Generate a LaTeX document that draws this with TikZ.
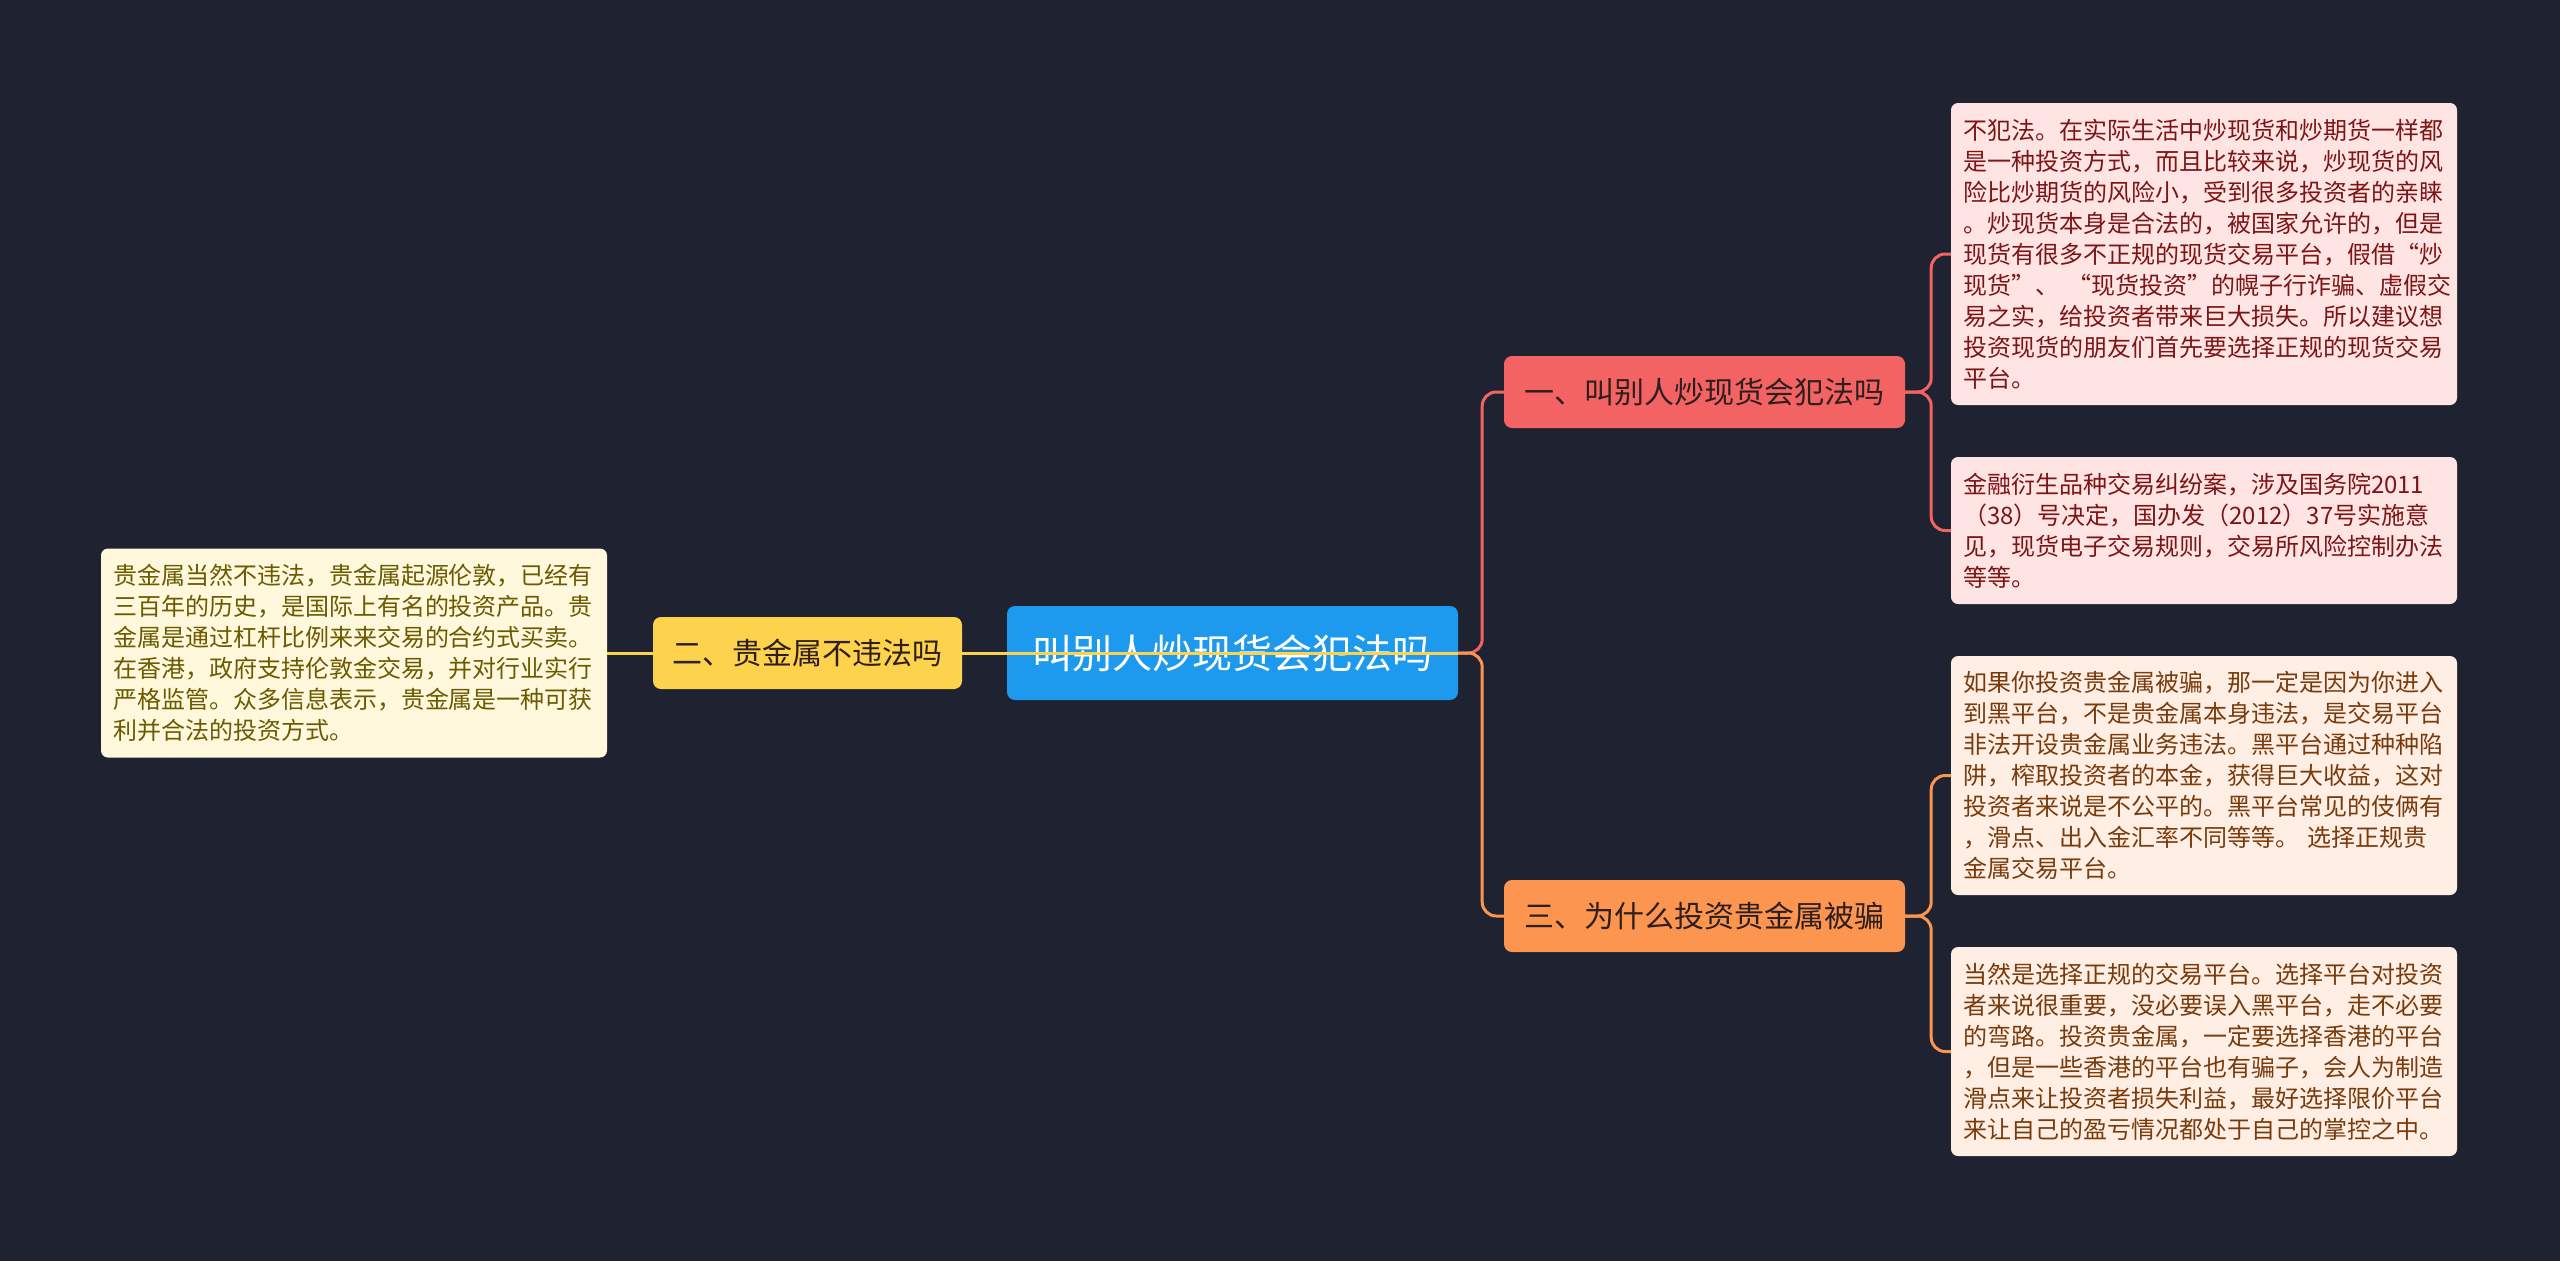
\documentclass[tikz,border=0pt]{standalone}
\usepackage{fontspec}
\setmainfont{Noto Sans CJK SC}
\definecolor{bg}{HTML}{1F2230}
\definecolor{rootc}{HTML}{1D99EE}
\definecolor{redc}{HTML}{F46363}
\definecolor{orac}{HTML}{FB9550}
\definecolor{yelc}{HTML}{FDD24C}
\definecolor{pinkbg}{HTML}{FFE4E4}
\definecolor{pinktx}{HTML}{7E1515}
\definecolor{orabg}{HTML}{FFEEE4}
\definecolor{oratx}{HTML}{7A3B0C}
\definecolor{yelbg}{HTML}{FFF8DC}
\definecolor{yeltx}{HTML}{6B5A00}
\definecolor{darktx}{HTML}{2E1E1E}
\tikzset{
  rootbox/.style={fill=rootc, rounded corners=8pt, inner sep=0pt, text=white,
    font=\fontsize{40}{48}\selectfont, minimum width=451pt, minimum height=94pt},
  branchbox/.style={rounded corners=8pt, inner sep=0pt, text=darktx,
    font=\fontsize{30}{36}\selectfont, minimum height=72pt},
  leafbox/.style={rounded corners=7pt, inner xsep=12pt, inner ysep=6pt,
    text width=482pt, align=left, font=\fontsize{24}{31}\selectfont},
  conn/.style={line width=3pt, rounded corners=14pt},
}
\begin{document}
\begin{tikzpicture}[x=1pt,y=-1pt]
\fill[bg] (0,0) rectangle (2560,1261);
\useasboundingbox (0,0) rectangle (2560,1261);

\node[rootbox] (root) at (1232.5,653) {叫别人炒现货会犯法吗};
\node[branchbox, fill=yelc, minimum width=309pt] (b2) at (807.5,653) {二、贵金属不违法吗};
\node[branchbox, fill=redc, minimum width=401pt] (b1) at (1704.5,392) {一、叫别人炒现货会犯法吗};
\node[branchbox, fill=orac, minimum width=401pt] (b3) at (1704.5,916) {三、为什么投资贵金属被骗};

\node[leafbox, fill=pinkbg, text=pinktx, minimum height=302pt] (l1) at (2204,254) {不犯法。在实际生活中炒现货和炒期货一样都\\是一种投资方式，而且比较来说，炒现货的风\\险比炒期货的风险小，受到很多投资者的亲睐\\。炒现货本身是合法的，被国家允许的，但是\\现货有很多不正规的现货交易平台，假借“炒\\现货”、 “现货投资”的幌子行诈骗、虚假交\\易之实，给投资者带来巨大损失。所以建议想\\投资现货的朋友们首先要选择正规的现货交易\\平台。};
\node[leafbox, fill=pinkbg, text=pinktx, minimum height=147pt] (l2) at (2204,530.5) {金融衍生品种交易纠纷案，涉及国务院2011\\（38）号决定，国办发（2012）37号实施意\\见，现货电子交易规则，交易所风险控制办法\\等等。};
\node[leafbox, fill=orabg, text=oratx, minimum height=239pt] (l3) at (2204,775.5) {如果你投资贵金属被骗，那一定是因为你进入\\到黑平台，不是贵金属本身违法，是交易平台\\非法开设贵金属业务违法。黑平台通过种种陷\\阱，榨取投资者的本金，获得巨大收益，这对\\投资者来说是不公平的。黑平台常见的伎俩有\\，滑点、出入金汇率不同等等。 选择正规贵\\金属交易平台。};
\node[leafbox, fill=orabg, text=oratx, minimum height=209pt] (l4) at (2204,1051.5) {当然是选择正规的交易平台。选择平台对投资\\者来说很重要，没必要误入黑平台，走不必要\\的弯路。投资贵金属，一定要选择香港的平台\\，但是一些香港的平台也有骗子，会人为制造\\滑点来让投资者损失利益，最好选择限价平台\\来让自己的盈亏情况都处于自己的掌控之中。};
\node[leafbox, fill=yelbg, text=yeltx, minimum height=209pt] (lL) at (354,653) {贵金属当然不违法，贵金属起源伦敦，已经有\\三百年的历史，是国际上有名的投资产品。贵\\金属是通过杠杆比例来来交易的合约式买卖。\\在香港，政府支持伦敦金交易，并对行业实行\\严格监管。众多信息表示，贵金属是一种可获\\利并合法的投资方式。};

\draw[conn, redc] (root.east) -- ++(24,0) |- (b1.west);
\draw[conn, orac] (root.east) -- ++(24,0) |- (b3.west);
\draw[conn, yelc] (b2.east) -- (root.east);
\draw[conn, yelc] (b2.west) -- (lL.east);
\draw[conn, redc] (b1.east) -- ++(26,0) |- (l1.west);
\draw[conn, redc] (b1.east) -- ++(26,0) |- (l2.west);
\draw[conn, orac] (b3.east) -- ++(26,0) |- (l3.west);
\draw[conn, orac] (b3.east) -- ++(26,0) |- (l4.west);
\end{tikzpicture}
\end{document}
